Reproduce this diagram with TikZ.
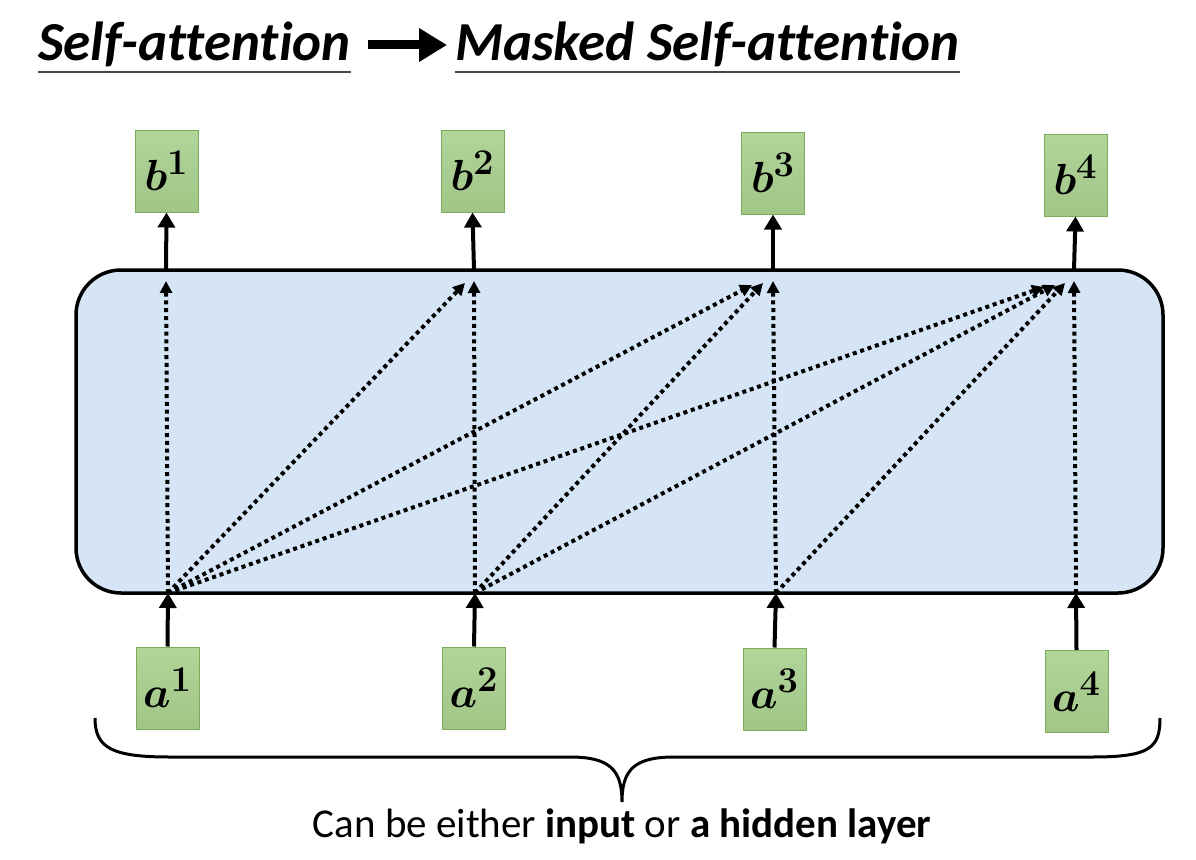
\documentclass[tikz,border=0pt]{standalone}
\usepackage{bm}
\usepackage{graphicx}
\usepackage{fontspec}
\setmainfont{Carlito}[Ligatures=NoCommon]
\usetikzlibrary{arrows.meta}
\definecolor{boxgreen}{RGB}{169,208,142}
\definecolor{boxedge}{RGB}{122,172,92}
\definecolor{layerblue}{RGB}{214,229,245}
\definecolor{ulgray}{RGB}{70,70,70}
\newcommand{\veclab}[2]{\scalebox{1.75}{$\bm{#1}^{\bm{#2}}$}}
\tikzset{
  vecbox/.style={draw=boxedge, line width=1pt, top color=boxgreen!90!white, bottom color=boxgreen!95!black, minimum width=63pt, minimum height=82pt, inner sep=0pt, font=\Huge},
  solidarrow/.style={line width=4pt, -{Triangle[length=15pt,width=17pt]}},
  dotarrow/.style={line width=4pt, dash pattern=on 4pt off 3.8pt, -{Triangle[length=12pt,width=12pt]}},
  titletext/.style={font=\fontsize{55}{62}\selectfont\bfseries\itshape, inner sep=0pt, anchor=base west},
  ul/.style={line width=2.5pt, ulgray},
}
\begin{document}
\begin{tikzpicture}[x=1pt,y=-1pt]
\useasboundingbox (0,0) rectangle (1196,859);
% title
\node[titletext] (ttl1) at (38,61) {Self-attention};
\node[titletext] (ttl2) at (455,61) {Masked Self-attention};
\draw[ul] ([yshift=-11pt]ttl1.base west) -- ([yshift=-11pt]ttl1.base east);
\draw[ul] ([yshift=-11pt]ttl2.base west) -- ([yshift=-11pt]ttl2.base east);
\draw[line width=9pt, -{Triangle[length=28pt,width=32pt]}] ([xshift=330pt,yshift=16pt]ttl1.base west) -- ([xshift=-8pt,yshift=16pt]ttl2.base west);
% layer
\node[draw, line width=3.5pt, rounded corners=45pt, fill=layerblue, minimum width=1087pt, minimum height=323pt] (layer) at (619.5,431.5) {};
% boxes
\node[vecbox] (b1) at (166.5,171) {\veclab{b}{1}};
\node[vecbox] (b2) at (472.5,171) {\veclab{b}{2}};
\node[vecbox] (b3) at (773,173) {\veclab{b}{3}};
\node[vecbox] (b4) at (1075.5,175) {\veclab{b}{4}};
\node[vecbox] (a1) at (167.5,688) {\veclab{a}{1}};
\node[vecbox] (a2) at (474,688) {\veclab{a}{2}};
\node[vecbox] (a3) at (774.5,689) {\veclab{a}{3}};
\node[vecbox] (a4) at (1076.5,691.5) {\veclab{a}{4}};
% ports
\coordinate (s1) at (168,593);
\coordinate (s2) at (475,593);
\coordinate (s3) at (776,593);
\coordinate (s4) at (1076,593);
\coordinate (u1) at (166,270);
\coordinate (u2) at (474,270);
\coordinate (u3) at (773,270);
\coordinate (u4) at (1074,270);
% solid arrows
\draw[solidarrow] (a1.north) -- (s1);
\draw[solidarrow] (a2.north) -- (s2);
\draw[solidarrow] (a3.north) -- (s3);
\draw[solidarrow] (a4.north) -- (s4);
\draw[solidarrow] (u1) -- (b1.south);
\draw[solidarrow] (u2) -- (b2.south);
\draw[solidarrow] (u3) -- (b3.south);
\draw[solidarrow] (u4) -- (b4.south);
% dotted attention arrows
\coordinate (t11) at (166,281);
\coordinate (t22) at (474,281);
\coordinate (t12) at (465,283);
\coordinate (t33) at (773,281);
\coordinate (t23) at (763,283);
\coordinate (t13) at (752,285);
\coordinate (t44) at (1074,281);
\coordinate (t34) at (1065,283);
\coordinate (t24) at (1055,285);
\coordinate (t14) at (1044,287);
\draw[dotarrow] (s1) -- (t11);
\draw[dotarrow] (s1) -- (t12);
\draw[dotarrow] (s1) -- (t13);
\draw[dotarrow] (s1) -- (t14);
\draw[dotarrow] (s2) -- (t22);
\draw[dotarrow] (s2) -- (t23);
\draw[dotarrow] (s2) -- (t24);
\draw[dotarrow] (s3) -- (t33);
\draw[dotarrow] (s3) -- (t34);
\draw[dotarrow] (s4) -- (t44);
% brace
\coordinate (brtip) at (622,802);
\draw[line width=3pt] (95,718) .. controls (95,748) and (112,757) .. (170,757) -- (570,757) .. controls (610,757) and (622,770) .. (brtip) .. controls (622,770) and (634,757) .. (674,757) -- (1092,757) .. controls (1150,757) and (1160,748) .. (1160,718);
\node[font=\fontsize{41}{46}\selectfont, anchor=base] (cap) at (622,837) {Can be either \textbf{input} or \textbf{a hidden layer}};
\end{tikzpicture}
\end{document}
